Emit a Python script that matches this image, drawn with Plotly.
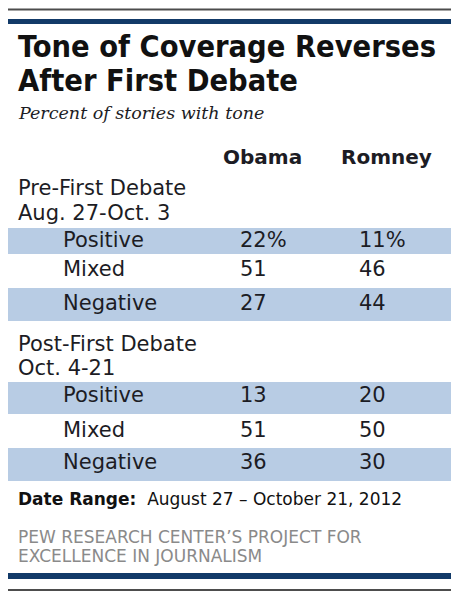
import plotly.graph_objects as go

# Table content
title_lines = ["Tone of Coverage Reverses", "After First Debate"]
subtitle = "Percent of stories with tone"
candidates = ["Obama", "Romney"]
periods = ["Pre-First Debate", "Post-First Debate"]
period_dates = ["Aug. 27-Oct. 3", "Oct. 4-21"]
tones = ["Positive", "Mixed", "Negative"]

obama_pre = [22, 51, 27]
romney_pre = [11, 46, 44]
obama_post = [13, 51, 36]
romney_post = [20, 50, 30]

date_label = "Date Range:"
date_text = "August 27 \u2013 October 21, 2012"
source_lines = ["PEW RESEARCH CENTER\u2019S PROJECT FOR", "EXCELLENCE IN JOURNALISM"]

# Layout (page pixel coords, y down); page body has an 8px margin
W, H = 459, 600
PAD = 8
TXT = "#1c1c24"
BAND = "#b8cce4"
NAVY = "#123a68"
GREY = "#4d4d4d"
FONT = "DejaVu Sans"

col_x = [240, 359]
head_x = [262, 386]
label_x = 63
period_head_y = [(188, 213), (344, 368)]
row_y = [[242, 271, 305], [397, 432, 464]]
bands = [[(228, 254), None, (288, 321)], [(382, 414), None, (448, 481)]]

values = [[obama_pre, romney_pre], [obama_post, romney_post]]

fig = go.Figure()

shapes = []
for p in range(len(periods)):
    for r in range(len(tones)):
        if bands[p][r]:
            y0, y1 = bands[p][r]
            shapes.append(dict(type="rect", x0=5, x1=453, y0=y0, y1=y1,
                               fillcolor=BAND, line_width=0, layer="below"))
shapes += [
    dict(type="line", x0=5, x1=453, y0=9.5, y1=9.5, line=dict(color=GREY, width=2)),
    dict(type="rect", x0=5, x1=453, y0=19, y1=24, fillcolor=NAVY, line_width=0),
    dict(type="rect", x0=5, x1=453, y0=573, y1=579, fillcolor=NAVY, line_width=0),
    dict(type="line", x0=5, x1=453, y0=590, y1=590, line=dict(color=GREY, width=2)),
]

# value cells
for p in range(len(periods)):
    for c in range(len(candidates)):
        vals = values[p][c]
        txt = [f"{v}%" if (p == 0 and i == 0) else str(v) for i, v in enumerate(vals)]
        fig.add_trace(go.Scatter(
            x=[col_x[c]] * len(vals), y=row_y[p], mode="text", text=txt,
            textposition="middle right",
            textfont=dict(family=FONT, size=21, color=TXT),
            hoverinfo="skip", showlegend=False))
    fig.add_trace(go.Scatter(
        x=[label_x] * len(tones), y=row_y[p], mode="text", text=tones,
        textposition="middle right",
        textfont=dict(family=FONT, size=21, color=TXT),
        hoverinfo="skip", showlegend=False))

ann = []
ann.append(dict(x=16, y=46, text=f"<b>{title_lines[0]}</b>", xanchor="left", yanchor="middle",
                font=dict(family="DejaVu Sans Condensed", size=30.5, color="#111111")))
ann.append(dict(x=16, y=80, text=f"<b>{title_lines[1]}</b>", xanchor="left", yanchor="middle",
                font=dict(family="DejaVu Sans Condensed", size=30.5, color="#111111")))
ann.append(dict(x=16, y=113, text=f"<i>{subtitle}</i>", xanchor="left", yanchor="middle",
                font=dict(family="DejaVu Serif", size=17.5, color=TXT)))
for c, name in enumerate(candidates):
    ann.append(dict(x=head_x[c], y=157, text=f"<b>{name}</b>", xanchor="center", yanchor="middle",
                    font=dict(family=FONT, size=20, color=TXT)))
for p in range(len(periods)):
    for line, yy in zip([periods[p], period_dates[p]], period_head_y[p]):
        ann.append(dict(x=16, y=yy, text=line, xanchor="left", yanchor="middle",
                        font=dict(family=FONT, size=21, color=TXT)))
ann.append(dict(x=16, y=499, text=f"<b>{date_label}</b>  {date_text}", xanchor="left", yanchor="middle",
                font=dict(family=FONT, size=17, color="#111111")))
for line, yy in zip(source_lines, [537, 556]):
    ann.append(dict(x=16, y=yy, text=line, xanchor="left", yanchor="middle",
                    font=dict(family=FONT, size=17, color="#8a8a8a")))
for a in ann:
    a.update(xref="x", yref="y", showarrow=False)

fig.update_layout(
    width=W - PAD, height=H - PAD,
    margin=dict(l=0, r=0, t=0, b=0),
    paper_bgcolor="white", plot_bgcolor="white",
    xaxis=dict(range=[PAD, W], visible=False, fixedrange=True),
    yaxis=dict(range=[H, PAD], visible=False, fixedrange=True),
    shapes=shapes, annotations=ann,
    showlegend=False,
)

fig.write_html("out.html")
